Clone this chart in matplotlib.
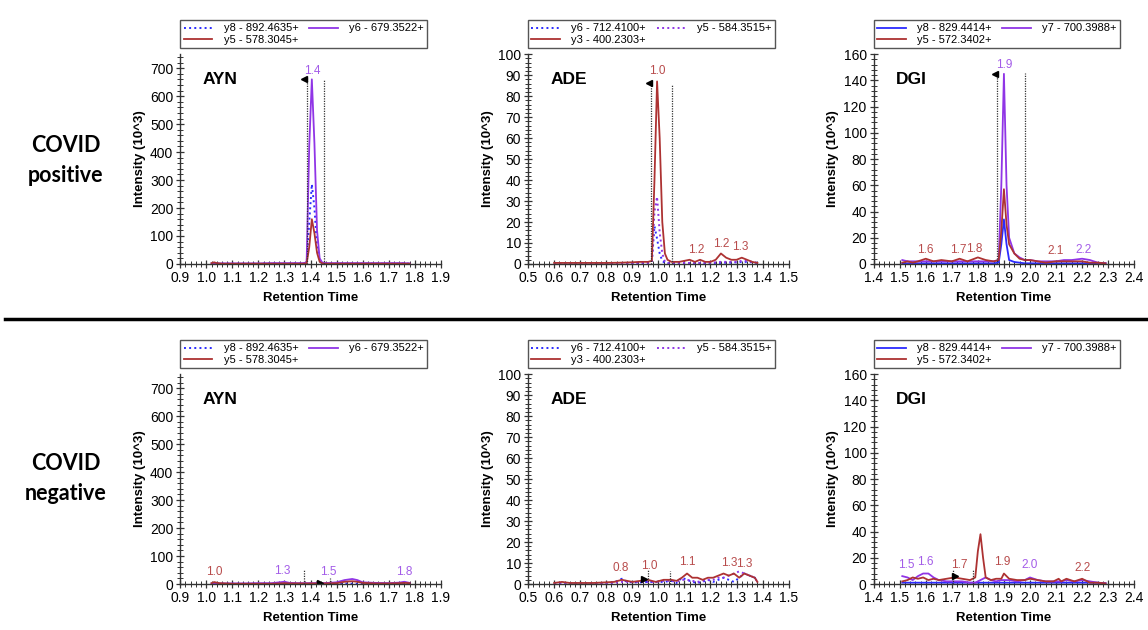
import matplotlib
matplotlib.use("Agg")
import matplotlib.pyplot as plt
from matplotlib.lines import Line2D
from matplotlib.ticker import MultipleLocator, AutoMinorLocator, FormatStrFormatter

plt.rcParams['font.family'] = ['Liberation Sans', 'DejaVu Sans']

# colores de las transiciones
BLUE = '#2b2bff'
PURPLE = '#9035e6'
RED = '#ad3232'
RED_TXT = '#b84c4c'
PURPLE_TXT = '#a35ce8'

# ---------------- AYN ----------------
ayn_labels = ['y8 - 892.4635+', 'y6 - 679.3522+', 'y5 - 578.3045+']

ayn_pos_t = [1.02, 1.03, 1.04, 1.06, 1.10, 1.15, 1.20, 1.25, 1.30, 1.34, 1.37, 1.385, 1.395,
             1.405, 1.415, 1.425, 1.435, 1.445, 1.46, 1.50, 1.55, 1.60, 1.65, 1.70, 1.75, 1.78]
ayn_pos_y8 = [1, 2, 1, 1, 1, 1, 1, 2, 1, 2, 1, 2, 150, 285, 200, 60, 10, 2, 1, 1, 1, 1, 1, 1, 2, 1]
ayn_pos_y6 = [2, 3, 2, 2, 2, 2, 2, 3, 3, 3, 3, 5, 420, 660, 430, 120, 20, 5, 3, 3, 3, 3, 3, 3, 3, 2]
ayn_pos_y5 = [3, 6, 3, 1, 1, 1, 1, 1, 1, 1, 1, 2, 60, 160, 110, 40, 8, 2, 1, 1, 1, 1, 1, 1, 1, 1]

ayn_neg_t = [1.02, 1.03, 1.05, 1.10, 1.15, 1.20, 1.25, 1.28, 1.30, 1.32, 1.35, 1.40, 1.45,
             1.50, 1.53, 1.56, 1.58, 1.60, 1.65, 1.70, 1.74, 1.76, 1.78]
ayn_neg_y8 = [1, 1, 1, 1, 1, 1, 1, 1, 2, 1, 1, 2, 1, 2, 2, 1, 1, 1, 1, 1, 2, 5, 2]
ayn_neg_y6 = [2, 3, 2, 2, 2, 3, 3, 6, 8, 4, 3, 3, 3, 6, 14, 18, 14, 6, 4, 3, 5, 8, 4]
ayn_neg_y5 = [3, 7, 3, 1, 1, 1, 1, 2, 3, 2, 2, 2, 2, 3, 8, 10, 8, 4, 2, 2, 3, 4, 3]

# ---------------- ADE ----------------
ade_labels = ['y6 - 712.4100+', 'y5 - 584.3515+', 'y3 - 400.2303+']

ade_pos_t = [0.60, 0.65, 0.70, 0.75, 0.80, 0.85, 0.90, 0.93, 0.96, 0.975, 0.985, 0.995, 1.005,
             1.015, 1.025, 1.035, 1.05, 1.08, 1.10, 1.12, 1.14, 1.16, 1.18, 1.20, 1.22, 1.24,
             1.26, 1.28, 1.30, 1.32, 1.34, 1.36, 1.38]
ade_pos_y6 = [0.3, 0.3, 0.3, 0.3, 0.3, 0.3, 0.4, 0.5, 0.5, 1, 18, 12, 5, 1.5, 0.5, 0.3, 0.3,
              0.3, 0.3, 0.4, 0.3, 0.4, 0.3, 0.4, 0.5, 0.5, 0.6, 0.6, 0.8, 1, 1, 0.8, 0.5]
ade_pos_y5 = [0.3, 0.3, 0.3, 0.3, 0.3, 0.3, 0.4, 0.5, 0.5, 1, 25, 32, 15, 5, 1, 0.5, 0.3,
              0.3, 0.5, 0.5, 0.4, 0.5, 0.5, 0.5, 0.8, 1, 1, 1, 1, 1.5, 1.5, 1, 0.5]
ade_pos_y3 = [0.5, 0.5, 0.5, 0.5, 0.5, 0.6, 0.8, 1, 1, 1.5, 40, 87, 60, 20, 5, 2, 1,
              1, 1.5, 2, 1, 2, 1, 1, 2, 5, 3, 2, 2, 3, 2, 1, 0.5]

ade_neg_t = [0.60, 0.63, 0.66, 0.70, 0.75, 0.80, 0.83, 0.86, 0.88, 0.90, 0.93, 0.96, 0.99,
             1.02, 1.05, 1.07, 1.09, 1.11, 1.13, 1.15, 1.17, 1.19, 1.21, 1.23, 1.25, 1.27,
             1.29, 1.31, 1.33, 1.35, 1.37, 1.38]
ade_neg_y6 = [0.3, 0.3, 0.3, 0.3, 0.3, 0.5, 0.8, 2.5, 1, 0.8, 0.8, 1, 1, 1, 1.5, 0.5,
              3, 2, 1, 0.5, 1, 2, 1, 2, 3, 2, 1, 3, 5, 4, 3, 1]
ade_neg_y5 = [0.3, 0.3, 0.3, 0.3, 0.3, 0.5, 0.5, 1, 1, 1, 1, 1, 1, 1.5, 1.5, 1,
              2, 2, 1.5, 1, 1.5, 2, 2, 3, 3, 4, 5, 6, 5, 4, 3, 1]
ade_neg_y3 = [0.5, 1, 0.5, 0.5, 0.5, 0.8, 1, 2, 1.5, 1, 1.5, 2, 1, 2, 2, 1.5,
              3, 5, 3, 3, 2, 3, 3, 4, 5, 4, 5, 3, 5, 4, 3, 1]

# ---------------- DGI ----------------
dgi_labels = ['y8 - 829.4414+', 'y7 - 700.3988+', 'y5 - 572.3402+']

dgi_pos_t = [1.51, 1.53, 1.55, 1.57, 1.60, 1.63, 1.66, 1.70, 1.73, 1.76, 1.80, 1.83, 1.86,
             1.88, 1.89, 1.90, 1.91, 1.92, 1.94, 1.96, 1.98, 2.00, 2.03, 2.06, 2.10, 2.13,
             2.16, 2.20, 2.23, 2.26, 2.29]
dgi_pos_y8 = [0.5, 0.5, 0.5, 0.5, 0.5, 0.5, 0.5, 0.5, 0.5, 0.5, 0.5, 0.5, 0.5, 1, 15, 34,
              15, 3, 1.5, 1, 0.5, 0.5, 0.5, 0.5, 0.5, 0.5, 0.5, 0.5, 0.5, 0.5, 0.5]
dgi_pos_y7 = [3, 2, 2, 2, 2, 2, 2, 2, 2, 2, 2, 2, 2, 3, 60, 145,
              60, 20, 8, 5, 3, 3, 2, 2, 2, 3, 3, 4, 3, 1, 0.5]
dgi_pos_y5 = [1, 2, 1, 2, 4, 2, 3, 2, 4, 2, 5, 3, 2, 3, 25, 57,
              30, 15, 8, 4, 3, 3, 2, 1, 2, 2, 2, 2, 1, 1, 0.5]

dgi_neg_t = [1.51, 1.53, 1.55, 1.57, 1.59, 1.61, 1.63, 1.65, 1.68, 1.71, 1.74, 1.77, 1.79,
             1.80, 1.81, 1.82, 1.83, 1.85, 1.87, 1.89, 1.90, 1.92, 1.95, 1.98, 2.00, 2.03,
             2.06, 2.09, 2.11, 2.12, 2.14, 2.17, 2.20, 2.23, 2.26, 2.29]
dgi_neg_y8 = [1, 1, 1, 1, 1, 1, 1, 1, 1, 1, 1, 1, 1, 1, 1, 1, 1, 1, 1, 1,
              1, 1, 1, 1, 1, 1, 1, 1, 1, 1, 1, 1, 1, 1, 1, 0.5]
dgi_neg_y7 = [6, 5, 3, 6, 8, 8, 5, 3, 2, 2, 2, 1, 1, 2, 3, 4, 5, 3, 2, 3,
              3, 3, 2, 3, 5, 3, 2, 2, 2, 2, 3, 2, 3, 2, 1, 0.5]
dgi_neg_y5 = [2, 3, 5, 4, 5, 3, 4, 3, 4, 5, 4, 3, 5, 25, 38, 20, 5, 3, 4, 4,
              8, 4, 3, 3, 4, 3, 2, 2, 4, 2, 4, 2, 4, 1, 1, 0.5]

# etiquetas de picos: (x, y, texto, color)
ayn_pos_peaks = [(1.405, 668, '1.4', PURPLE_TXT)]
ayn_neg_peaks = [(1.03, 22, '1.0', RED_TXT), (1.29, 25, '1.3', PURPLE_TXT),
                 (1.47, 20, '1.5', PURPLE_TXT), (1.76, 22, '1.8', PURPLE_TXT)]
ade_pos_peaks = [(0.995, 89, '1.0', RED_TXT), (1.145, 4, '1.2', RED_TXT),
                 (1.24, 6.5, '1.2', RED_TXT), (1.315, 5, '1.3', RED_TXT)]
ade_neg_peaks = [(0.855, 5, '0.8', RED_TXT), (0.965, 5.5, '1.0', RED_TXT),
                 (1.11, 7.5, '1.1', RED_TXT), (1.27, 7, '1.3', RED_TXT),
                 (1.33, 6.5, '1.3', RED_TXT)]
dgi_pos_peaks = [(1.60, 6, '1.6', RED_TXT), (1.725, 6, '1.7', RED_TXT),
                 (1.785, 6.5, '1.8', RED_TXT), (1.90, 147, '1.9', PURPLE_TXT),
                 (2.10, 5, '2.1', RED_TXT), (2.205, 6, '2.2', PURPLE_TXT)]
dgi_neg_peaks = [(1.525, 10, '1.5', PURPLE_TXT), (1.60, 12, '1.6', PURPLE_TXT),
                 (1.73, 10, '1.7', RED_TXT), (1.895, 12, '1.9', RED_TXT),
                 (2.00, 10, '2.0', PURPLE_TXT), (2.20, 8, '2.2', RED_TXT)]

# limites de integracion: (x, altura)
ayn_pos_bounds = [(1.385, 665), (1.45, 660)]
ayn_neg_bounds = [(1.375, 50), (1.475, 20)]
ade_pos_bounds = [(0.973, 87), (1.054, 86)]
ade_neg_bounds = [(0.96, 6.5), (1.046, 6)]
dgi_pos_bounds = [(1.875, 146), (1.982, 146)]
dgi_neg_bounds = [(1.703, 11), (1.782, 11)]

# banderitas del pico: (x, y, marker)
ayn_pos_flag = (1.376, 662, '<')
ayn_neg_flag = (1.435, 5, '>')
ade_pos_flag = (0.965, 86.5, '<')
ade_neg_flag = (0.945, 2.5, '>')
dgi_pos_flag = (1.866, 145, '<')
dgi_neg_flag = (1.712, 6, '>')

fig = plt.figure(figsize=(11.48, 6.3), dpi=100)

lefts = [0.157, 0.460, 0.761]
width = 0.227
bottoms = [0.581, 0.073]
height = 0.333


def draw_panel(ax, name, t, series, styles, labels, peaks, bounds, flag,
               xlim, ylim, ymajor):
    handles = []
    for y, (col, ls), lab in zip(series, styles, labels):
        h, = ax.plot(t, y, color=col, ls=ls, lw=1.3 if ls == '-' else 1.4, label=lab)
        handles.append(h)
    for bx, bh in bounds:
        ax.vlines(bx, 0, bh, colors='#333333', linestyles=(0, (1, 1)), lw=0.9)
    ax.plot(flag[0], flag[1], marker=flag[2], color='black', ms=5, ls='none')
    for px, py, txt, col in peaks:
        ax.text(px, py, txt, color=col, fontsize=8.5, ha='center', va='bottom')
    ax.text(0.085, 0.88, name, transform=ax.transAxes, fontsize=12.5,
            fontweight='bold', va='center', ha='left')

    ax.set_xlim(*xlim)
    ax.set_ylim(*ylim)
    ax.xaxis.set_major_locator(MultipleLocator(0.1))
    ax.xaxis.set_major_formatter(FormatStrFormatter('%.1f'))
    ax.xaxis.set_minor_locator(AutoMinorLocator(5))
    ax.yaxis.set_major_locator(MultipleLocator(ymajor))
    ax.yaxis.set_minor_locator(AutoMinorLocator(5))
    ax.spines['top'].set_visible(False)
    ax.spines['right'].set_visible(False)
    for s in ['left', 'bottom']:
        ax.spines[s].set_color('#333333')
        ax.spines[s].set_linewidth(1.0)
    ax.tick_params(which='major', direction='inout', length=6, width=0.9,
                   labelsize=10, pad=2, color='#333333')
    ax.tick_params(which='minor', direction='inout', length=4, width=0.7,
                   color='#333333')
    ax.set_xlabel('Retention Time', fontsize=9.5, fontweight='bold', labelpad=5)
    ax.set_ylabel('Intensity (10^3)', fontsize=9.5, fontweight='bold', labelpad=3)

    # orden para que la fila 1 sea serie 0 y 1, fila 2 serie 2
    order = [handles[0], handles[2], handles[1]]
    leg = ax.legend(handles=order, labels=[h.get_label() for h in order],
                    ncol=2, loc='lower left', bbox_to_anchor=(0, 1.03, 0.946, 0.1),
                    mode='expand', borderaxespad=0, fontsize=8, handlelength=2.6,
                    handletextpad=1.0, labelspacing=0.1, borderpad=0.3,
                    fancybox=False, framealpha=1, columnspacing=1.0)
    leg.get_frame().set_edgecolor('#555555')
    leg.get_frame().set_linewidth(1.0)


panels = [
    (0, 0, 'AYN', ayn_pos_t, [ayn_pos_y8, ayn_pos_y6, ayn_pos_y5],
     [(BLUE, ':'), (PURPLE, '-'), (RED, '-')], ayn_labels, ayn_pos_peaks,
     ayn_pos_bounds, ayn_pos_flag, (0.9, 1.9), (0, 750), 100),
    (0, 1, 'ADE', ade_pos_t, [ade_pos_y6, ade_pos_y5, ade_pos_y3],
     [(BLUE, ':'), (PURPLE, ':'), (RED, '-')], ade_labels, ade_pos_peaks,
     ade_pos_bounds, ade_pos_flag, (0.5, 1.5), (0, 100), 10),
    (0, 2, 'DGI', dgi_pos_t, [dgi_pos_y8, dgi_pos_y7, dgi_pos_y5],
     [(BLUE, '-'), (PURPLE, '-'), (RED, '-')], dgi_labels, dgi_pos_peaks,
     dgi_pos_bounds, dgi_pos_flag, (1.4, 2.4), (0, 160), 20),
    (1, 0, 'AYN', ayn_neg_t, [ayn_neg_y8, ayn_neg_y6, ayn_neg_y5],
     [(BLUE, ':'), (PURPLE, '-'), (RED, '-')], ayn_labels, ayn_neg_peaks,
     ayn_neg_bounds, ayn_neg_flag, (0.9, 1.9), (0, 750), 100),
    (1, 1, 'ADE', ade_neg_t, [ade_neg_y6, ade_neg_y5, ade_neg_y3],
     [(BLUE, ':'), (PURPLE, ':'), (RED, '-')], ade_labels, ade_neg_peaks,
     ade_neg_bounds, ade_neg_flag, (0.5, 1.5), (0, 100), 10),
    (1, 2, 'DGI', dgi_neg_t, [dgi_neg_y8, dgi_neg_y7, dgi_neg_y5],
     [(BLUE, '-'), (PURPLE, '-'), (RED, '-')], dgi_labels, dgi_neg_peaks,
     dgi_neg_bounds, dgi_neg_flag, (1.4, 2.4), (0, 160), 20),
]

for row, col, name, t, series, styles, labels, peaks, bounds, flag, xlim, ylim, ymaj in panels:
    ax = fig.add_axes([lefts[col], bottoms[row], width, height])
    draw_panel(ax, name, t, series, styles, labels, peaks, bounds, flag, xlim, ylim, ymaj)

# etiquetas de fila y separador
fig.text(0.057, 0.745, 'COVID\npositive', ha='center', va='center', fontsize=15.5,
         fontweight='bold', family=['Lato', 'DejaVu Sans'], linespacing=1.55)
fig.text(0.057, 0.24, 'COVID\nnegative', ha='center', va='center', fontsize=15.5,
         fontweight='bold', family=['Lato', 'DejaVu Sans'], linespacing=1.55)
fig.add_artist(Line2D([0.004, 1.0], [0.494, 0.494], color='black', lw=2.5,
                      transform=fig.transFigure))

fig.savefig('out.png', dpi=100)
